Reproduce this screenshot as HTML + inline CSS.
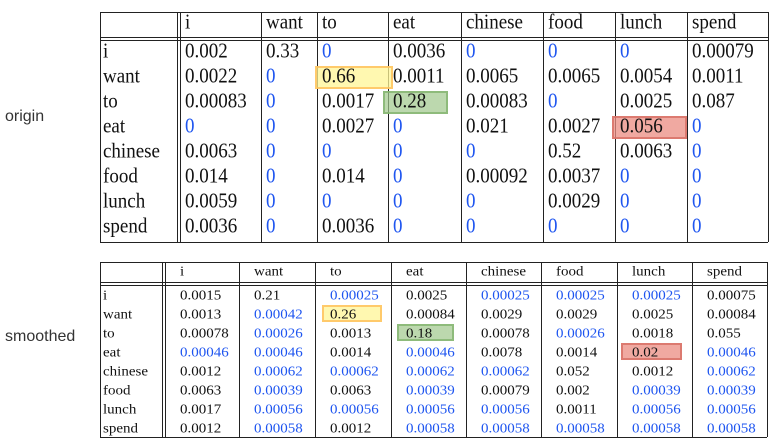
<!DOCTYPE html>
<html><head><meta charset="utf-8">
<style>
body{margin:0;width:774px;height:444px;background:#fff;position:relative;overflow:hidden;font-family:"Liberation Serif",serif;}
.lab{position:absolute;font-family:"Liberation Sans","DejaVu Sans",sans-serif;font-size:16px;color:#333;}
.c{position:absolute;white-space:nowrap;color:#111;transform-origin:left center;}
.l{position:absolute;background:#222;}
.hl{position:absolute;}
</style></head>
<body>
<div class="lab" style="left:5px;top:108px">origin</div>
<div class="lab" style="left:5px;top:328px">smoothed</div>
<div id="root"></div>
<script>
const words = ["i","want","to","eat","chinese","food","lunch","spend"];
const origin = [
["0.002","0.33","0","0.0036","0","0","0","0.00079"],
["0.0022","0","0.66","0.0011","0.0065","0.0065","0.0054","0.0011"],
["0.00083","0","0.0017","0.28","0.00083","0","0.0025","0.087"],
["0","0","0.0027","0","0.021","0.0027","0.056","0"],
["0.0063","0","0","0","0","0.52","0.0063","0"],
["0.014","0","0.014","0","0.00092","0.0037","0","0"],
["0.0059","0","0","0","0","0.0029","0","0"],
["0.0036","0","0.0036","0","0","0","0","0"]];
const smoothed = [
["0.0015","0.21","0.00025","0.0025","0.00025","0.00025","0.00025","0.00075"],
["0.0013","0.00042","0.26","0.00084","0.0029","0.0029","0.0025","0.00084"],
["0.00078","0.00026","0.0013","0.18","0.00078","0.00026","0.0018","0.055"],
["0.00046","0.00046","0.0014","0.00046","0.0078","0.0014","0.02","0.00046"],
["0.0012","0.00062","0.00062","0.00062","0.00062","0.052","0.0012","0.00062"],
["0.0063","0.00039","0.0063","0.00039","0.00079","0.002","0.00039","0.00039"],
["0.0017","0.00056","0.00056","0.00056","0.00056","0.0011","0.00056","0.00056"],
["0.0012","0.00058","0.0012","0.00058","0.00058","0.00058","0.00058","0.00058"]];
const highlights = [[1,2,"yellow"],[2,3,"green"],[3,6,"red"]];

const root=document.getElementById('root');
const hlStyle={yellow:["rgba(255,245,150,0.75)","rgba(255,190,90,0.8)"],green:["rgba(160,200,140,0.7)","rgba(130,180,110,0.8)"],red:["rgba(235,140,130,0.75)","rgba(215,110,100,0.8)"]};
function line(x,y,w,h){const d=document.createElement('div');d.className='l';


d.style.cssText+=`left:${x}px;top:${y}px;width:${w}px;height:${h}px`;root.appendChild(d);}
function build(cfg,data,name){
 const cols=cfg.cols, L=cols[0], R=cols[cols.length-1];
 line(L,cfg.top,R-L,1); line(L,cfg.hb,R-L,1); line(L,cfg.hb+3,R-L,1); line(L,cfg.bot,R-L,1);
 line(L,cfg.top,1,cfg.bot-cfg.top);
 line(R,cfg.top,1,cfg.bot-cfg.top);
 line(cols[1]-3,cfg.top,1,cfg.bot-cfg.top);
 for(let i=1;i<cols.length-1;i++){line(cols[i],cfg.top,1,cfg.bot-cfg.top);}
 highlights.forEach((h,i)=>{const [r,c,k]=h;const d=document.createElement('div');d.className='hl';
  
  
  const x0=cols[c+1]+cfg.hx[i], y0=cfg.rowY(r)-cfg.rh/2+cfg.hy;
  d.style.cssText=`left:${x0}px;top:${y0}px;width:${cfg.hw[i]}px;height:${cfg.rh-2}px;background:${hlStyle[k][0]};border:2px solid ${hlStyle[k][1]};box-sizing:border-box`;
  root.appendChild(d);});
 function cell(txt,x,yc,blue,nm){const d=document.createElement('div');d.className='c';
  
  
  d.textContent=txt;d.style.cssText+=`left:${x}px;top:${yc-cfg.fs*0.6}px;font-size:${cfg.fs}px;line-height:${cfg.fs*1.2}px;color:${blue?'#1e55f0':'#111'};transform:scale(${cfg.sx},${cfg.sy})`;root.appendChild(d);}
 words.forEach((w,j)=>cell(w,cols[j+1]+cfg.px,cfg.hy0,false,name+'-col-header-'+w));
 words.forEach((w,r)=>{cell(w,L+3,cfg.rowY(r),false,name+'-row-header-'+w);
  data[r].forEach((v,c)=>cell(v,cols[c+1]+cfg.px,cfg.rowY(r),origin[r][c]==="0",name+'-cell-'+w+'-'+words[c]));});
}
build({cols:[100,180,261,317,388,461,543,615,687,768],top:12,hb:37,bot:242,fs:19,sx:1,sy:1.12,px:5,hy0:23,rh:25,hx:[-2,-5,-3],hy:1,hw:[78,65,75],rowY:r=>52+r*25},origin,'origin');
build({cols:[100,165,239,315,391,466,541,617,692,767],top:262,hb:282,bot:437,fs:15,sx:1,sy:0.9,px:15,hy0:272,rh:19,hx:[7,6,4],hy:0,hw:[60,57,61],rowY:r=>295.5+r*19.07},smoothed,'smoothed');
</script>
</body></html>
